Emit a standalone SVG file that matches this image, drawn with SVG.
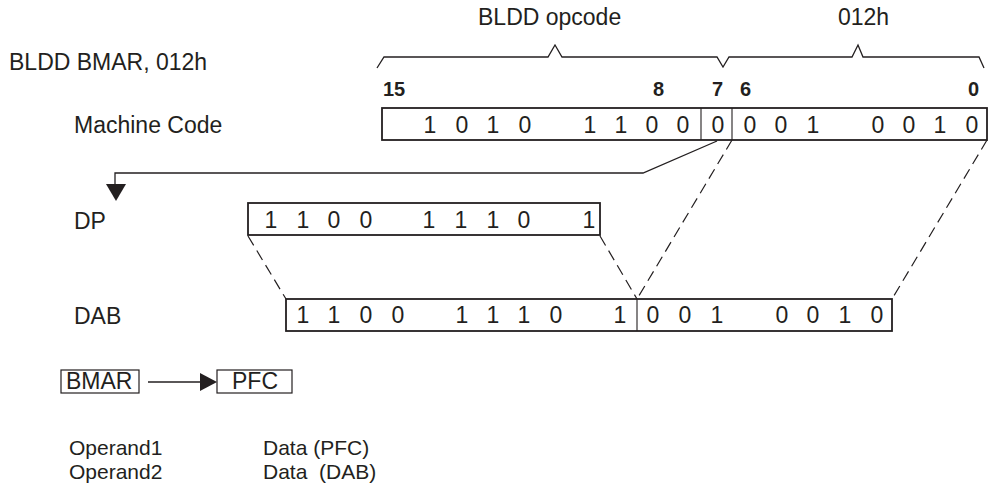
<svg xmlns="http://www.w3.org/2000/svg" width="990" height="497" viewBox="0 0 990 497">
<style>
text{font-family:"Liberation Sans",Arial,sans-serif;font-size:23px;fill:#231f20}
.b{text-anchor:middle}
.n{font-weight:bold;font-size:20px}
.op{font-size:21px}
.box{fill:none;stroke:#231f20;stroke-width:1.8}
.div{stroke:#231f20;stroke-width:1.1}
.dash{fill:none;stroke:#231f20;stroke-width:1.2;stroke-dasharray:11 6}
.ln{fill:none;stroke:#231f20;stroke-width:1.3}
</style>
<rect width="990" height="497" fill="#fff"/>
<g id="labels">
<text x="9" y="70">BLDD BMAR, 012h</text>
<text x="478" y="25">BLDD opcode</text>
<text x="838" y="25">012h</text>
<text x="74" y="133">Machine Code</text>
<text x="74" y="229">DP</text>
<text x="74" y="324">DAB</text>
<text class="op" x="69" y="455">Operand1</text>
<text class="op" x="69" y="479">Operand2</text>
<text class="op" x="263" y="455">Data (PFC)</text>
<text class="op" x="263" y="479" xml:space="preserve">Data  (DAB)</text>
</g>
<g id="brace">
<path class="ln" d="M377,68 L384,57 L548,57 L555,45 L562,57 L717,57 L723,67 L729,57 L852,57 L858,45 L863,57 L979,57 L984,68"/>
</g>
<g id="bitnums">
<text class="n" x="383" y="96">15</text>
<text class="n" x="653" y="96">8</text>
<text class="n" x="712" y="96">7</text>
<text class="n" x="740" y="96">6</text>
<text class="n" x="968" y="96">0</text>
</g>
<g id="machine-code">
<rect class="box" x="382" y="108" width="605" height="32"/>
<line class="div" x1="701" y1="108" x2="701" y2="140"/>
<line class="div" x1="732" y1="108" x2="732" y2="140"/>
<g class="b">
<text x="430" y="133">1</text><text x="462" y="133">0</text><text x="493" y="133">1</text><text x="525" y="133">0</text>
<text x="590" y="133">1</text><text x="621" y="133">1</text><text x="652" y="133">0</text><text x="683" y="133">0</text>
<text x="718" y="133">0</text>
<text x="750" y="133">0</text><text x="781" y="133">0</text><text x="813" y="133">1</text>
<text x="878" y="133">0</text><text x="909" y="133">0</text><text x="940" y="133">1</text><text x="972" y="133">0</text>
</g>
</g>
<g id="dp">
<rect class="box" x="248" y="203" width="352" height="32"/>
<g class="b">
<text x="271" y="228">1</text><text x="303" y="228">1</text><text x="334" y="228">0</text><text x="366" y="228">0</text>
<text x="429" y="228">1</text><text x="461" y="228">1</text><text x="493" y="228">1</text><text x="524" y="228">0</text>
<text x="589" y="228">1</text>
</g>
</g>
<g id="dab">
<rect class="box" x="286" y="299" width="606" height="32"/>
<line class="div" x1="637" y1="299" x2="637" y2="331"/>
<g class="b">
<text x="303" y="323">1</text><text x="334" y="323">1</text><text x="366" y="323">0</text><text x="398" y="323">0</text>
<text x="462" y="323">1</text><text x="493" y="323">1</text><text x="524" y="323">1</text><text x="556" y="323">0</text>
<text x="620" y="323">1</text>
<text x="653" y="323">0</text><text x="685" y="323">0</text><text x="717" y="323">1</text>
<text x="782" y="323">0</text><text x="813" y="323">0</text><text x="845" y="323">1</text><text x="877" y="323">0</text>
</g>
</g>
<g id="bmar">
<rect class="box" x="61" y="370" width="78" height="23" style="stroke-width:1.2"/>
<text x="66" y="389">BMAR</text>
</g>
<g id="pfc">
<rect class="box" x="217" y="370" width="75" height="23" style="stroke-width:1.2"/>
<text x="232" y="389">PFC</text>
</g>
<g id="connectors">
<path class="dash" d="M248,236 L286,299"/>
<path class="dash" d="M600,236 L637,299"/>
<path class="dash" d="M732,140 L637,299"/>
<path class="dash" d="M987,140 L892,299"/>
<path class="ln" d="M717,141 L643,173 L115,173 L115,185"/>
<polygon points="106,184 126,184 116,201" fill="#231f20"/>
<line class="ln" x1="148" y1="382" x2="201" y2="382"/>
<polygon points="200,373 217,382 200,391" fill="#231f20"/>
</g>
</svg>
